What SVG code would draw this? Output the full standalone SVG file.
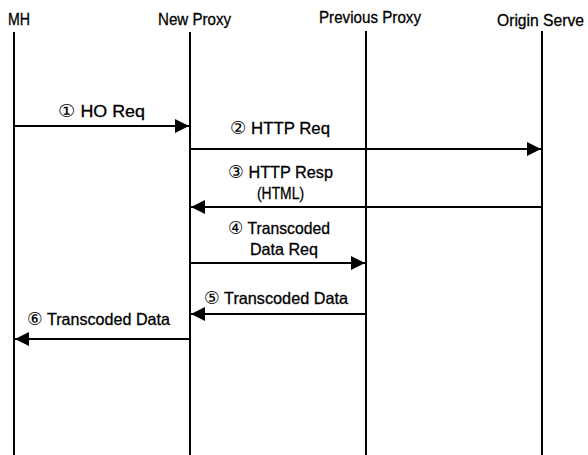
<svg xmlns="http://www.w3.org/2000/svg" width="588" height="455" viewBox="0 0 588 455">
<style>
text{font-family:"Liberation Sans","DejaVu Sans","Noto Sans CJK SC",sans-serif;font-size:16.5px;fill:#000;stroke:#000;stroke-width:0.3}
.n{font-family:"DejaVu Sans","Noto Sans CJK SC",sans-serif;font-size:18px;stroke-width:0}
.life{stroke:#000;stroke-width:2;fill:none}
.msg{stroke:#000;stroke-width:2;fill:none}
</style>
<defs>
<marker id="ah" viewBox="0 0 14 14" refX="14" refY="7" markerWidth="14" markerHeight="14" markerUnits="userSpaceOnUse" orient="auto">
<path d="M0,0 L14,7 L0,14 Z" fill="#000"/>
</marker>
</defs>
<rect width="588" height="455" fill="#fff"/>
<g id="mh">
<text x="8" y="25" textLength="22" lengthAdjust="spacingAndGlyphs">MH</text>
<line class="life" x1="14" y1="32" x2="14" y2="455"/>
</g>
<g id="newproxy">
<text x="158" y="25" textLength="73" lengthAdjust="spacingAndGlyphs">New Proxy</text>
<line class="life" x1="190" y1="32" x2="190" y2="455"/>
</g>
<g id="prevproxy">
<text x="319" y="23" textLength="102" lengthAdjust="spacingAndGlyphs">Previous Proxy</text>
<line class="life" x1="366" y1="31" x2="366" y2="455"/>
</g>
<g id="origin">
<text x="497" y="26" style="font-size:16px" textLength="87" lengthAdjust="spacingAndGlyphs">Origin Serve</text>
<line class="life" x1="542" y1="31" x2="542" y2="455"/>
</g>
<g id="connectors">
<line class="msg" x1="14" y1="126" x2="189" y2="126" marker-end="url(#ah)"/>
<line class="msg" x1="190" y1="149" x2="541" y2="149" marker-end="url(#ah)"/>
<line class="msg" x1="542" y1="207" x2="191" y2="207" marker-end="url(#ah)"/>
<line class="msg" x1="190" y1="263" x2="365" y2="263" marker-end="url(#ah)"/>
<line class="msg" x1="366" y1="314" x2="191" y2="314" marker-end="url(#ah)"/>
<line class="msg" x1="190" y1="339" x2="15" y2="339" marker-end="url(#ah)"/>
<text x="58" y="117" textLength="87" lengthAdjust="spacingAndGlyphs"><tspan class="n">①</tspan> HO Req</text>
<text x="230" y="134" textLength="100" lengthAdjust="spacingAndGlyphs"><tspan class="n">②</tspan> HTTP Req</text>
<text x="228" y="178" textLength="105" lengthAdjust="spacingAndGlyphs"><tspan class="n">③</tspan> HTTP Resp</text>
<text x="257" y="199" textLength="47" lengthAdjust="spacingAndGlyphs">(HTML)</text>
<text x="228" y="234" textLength="102" lengthAdjust="spacingAndGlyphs"><tspan class="n">④</tspan> Transcoded</text>
<text x="250" y="255" textLength="68" lengthAdjust="spacingAndGlyphs">Data Req</text>
<text x="204" y="304" textLength="144" lengthAdjust="spacingAndGlyphs"><tspan class="n">⑤</tspan> Transcoded Data</text>
<text x="27" y="325" textLength="143" lengthAdjust="spacingAndGlyphs"><tspan class="n">⑥</tspan> Transcoded Data</text>
</g>
</svg>
